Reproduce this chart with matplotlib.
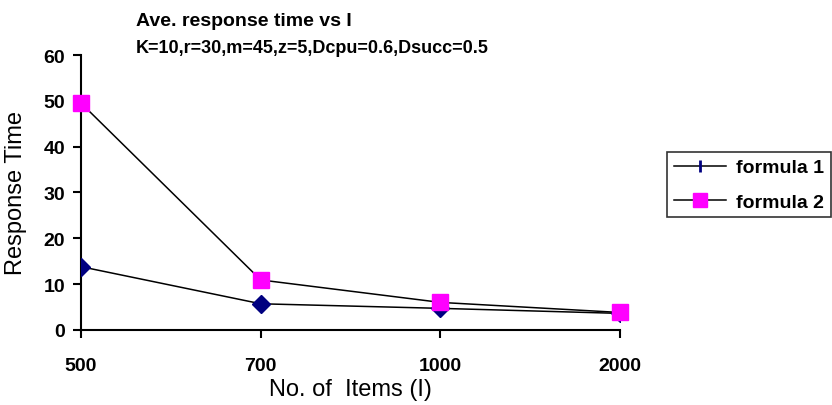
import matplotlib.pyplot as plt
from matplotlib.lines import Line2D

plt.rcParams['font.family'] = ['Liberation Sans', 'DejaVu Sans']

# data
items = ['500', '700', '1000', '2000']
formula1 = [13.8, 5.7, 4.7, 3.6]
formula2 = [49.5, 10.9, 6.0, 3.8]

fig = plt.figure(figsize=(8.32, 4.06), dpi=100)
ax = fig.add_axes([0.0974, 0.185, 0.648, 0.677])

x = range(len(items))
ax.plot(x, formula1, color='black', lw=1.1, marker='D', markersize=9,
        markerfacecolor='#000080', markeredgecolor='#000080', zorder=3)
ax.plot(x, formula2, color='black', lw=1.1, marker='s', markersize=11,
        markerfacecolor='#ff00ff', markeredgecolor='#ff00ff', zorder=4,
        clip_on=False)

ax.set_xlim(0, 3)
ax.set_ylim(0, 60)
ax.set_xticks(list(x))
ax.set_xticklabels(items)
ax.set_yticks(range(0, 61, 10))
for lab in ax.get_xticklabels() + ax.get_yticklabels():
    lab.set_fontweight('bold')
    lab.set_fontsize(14)
ax.tick_params(axis='x', length=5.5, width=1.5, pad=14)
ax.tick_params(axis='y', length=5.5, width=1.5, pad=6)
ax.spines['top'].set_visible(False)
ax.spines['right'].set_visible(False)
ax.spines['left'].set_linewidth(1.5)
ax.spines['bottom'].set_linewidth(1.5)

ax.set_xlabel('No. of  Items (I)', fontsize=17, labelpad=3)
ax.set_ylabel('Response Time', fontsize=17, labelpad=12)

fig.text(0.163, 1 - 26 / 406, 'Ave. response time vs I', fontsize=14,
         fontweight='bold', va='baseline')
fig.text(0.163, 1 - 53 / 406, 'K=10,r=30,m=45,z=5,Dcpu=0.6,Dsucc=0.5',
         fontsize=13, fontweight='bold', va='baseline')

handles = [
    Line2D([], [], color='black', lw=1.1, marker='|', markersize=9,
           markeredgecolor='#000080', markeredgewidth=2),
    Line2D([], [], color='black', lw=1.1, marker='s', markersize=9.5,
           markerfacecolor='#ff00ff', markeredgecolor='#ff00ff'),
]
leg = fig.legend(handles, ['formula 1', 'formula 2'], loc='upper left',
                 bbox_to_anchor=(0.8017, 0.623), frameon=True, fancybox=False,
                 prop={'weight': 'bold', 'size': 14}, handlelength=2.7,
                 handletextpad=0.5, borderpad=0.35, labelspacing=0.85,
                 borderaxespad=0)
leg.get_frame().set_edgecolor('black')
leg.get_frame().set_linewidth(1.2)

fig.savefig('out.png', dpi=100)
